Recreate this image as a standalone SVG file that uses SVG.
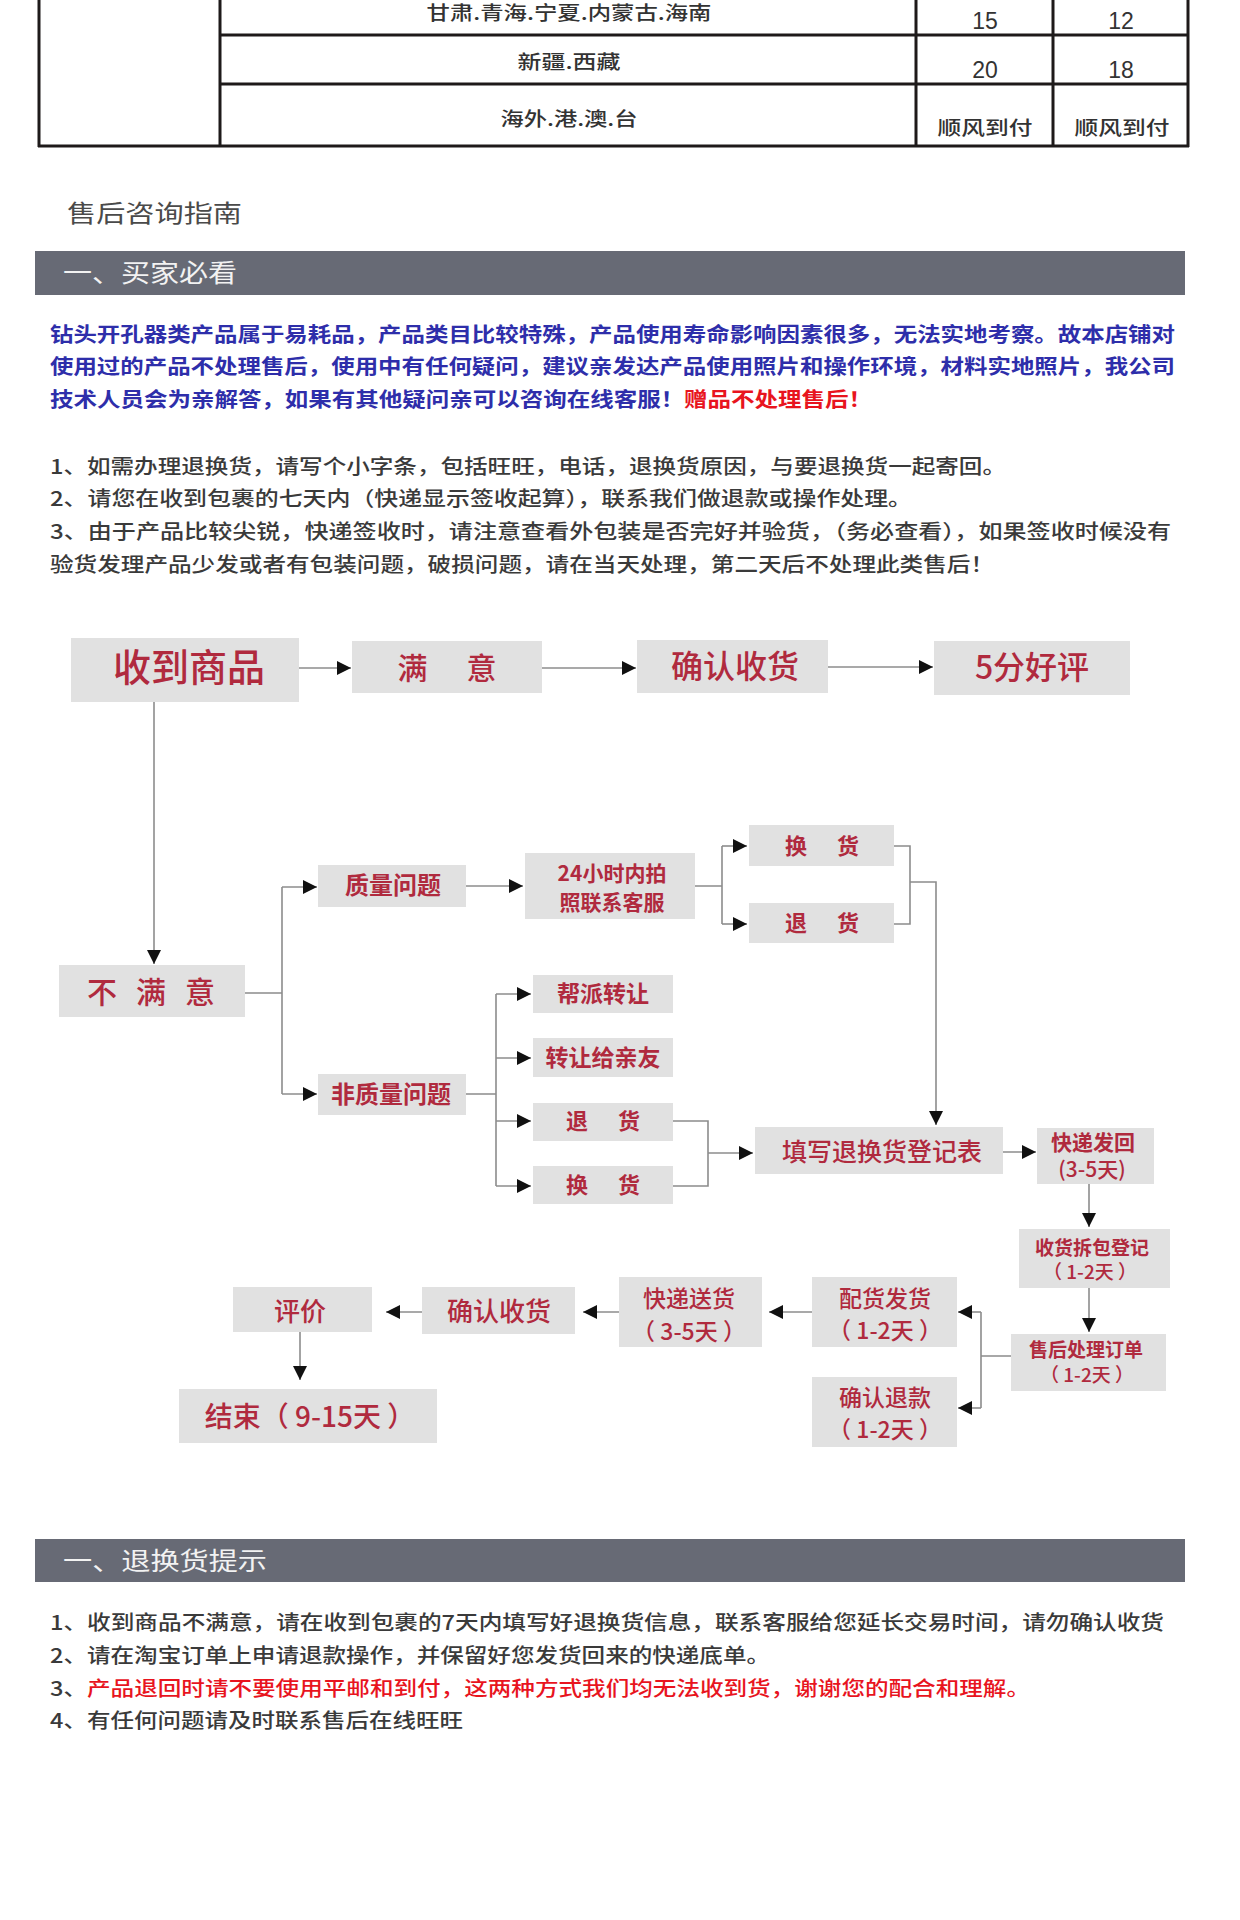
<svg xmlns="http://www.w3.org/2000/svg" width="1240" height="1920" viewBox="0 0 1240 1920">
<style>
  text { font-family: "Noto Sans CJK SC", "Noto Sans", "Liberation Sans", sans-serif; }
  .tbl { stroke: #1e1a1a; stroke-width: 3; fill: none; }
  .tt { fill: #333333; font-size: 19px; text-anchor: middle; font-weight: 500; }
  .tn { fill: #333333; font-size: 23px; text-anchor: middle; font-family: "Liberation Sans", "Noto Sans CJK SC", sans-serif; }
  .title { fill: #4a4a4a; font-size: 24px; }
  .banner { fill: #676a75; }
  .bt { fill: #f2f2f2; font-size: 25px; }
  .blue { fill: #2e2eaa; font-size: 20px; font-weight: bold; }
  .red { fill: #e8141e; }
  .gray { fill: #3a3a3a; font-size: 20px; font-weight: 500; }
  .box { fill: #e1e1e1; }
  .lb { fill: #b02a3e; text-anchor: middle; font-weight: bold; }
  .lm { fill: #b02a3e; text-anchor: middle; font-weight: 500; }
  .ln { stroke: #8c8c8c; stroke-width: 1.6; fill: none; }
  .ar { marker-end: url(#ah); }
</style>
<defs>
  <marker id="ah" markerWidth="14" markerHeight="14" refX="14" refY="7" orient="auto" markerUnits="userSpaceOnUse">
    <path d="M0,0 L14,7 L0,14 z" fill="#111"/>
  </marker>
</defs>
<rect x="0" y="0" width="1240" height="1920" fill="#ffffff"/>

<g id="table">
  <path class="tbl" d="M39,0 V147 M220,0 V147 M916,0 V147 M1053,0 V147 M1188,0 V147 M220,35 H1188 M220,84 H1188 M38,146 H1189"/>
  <text class="tt" x="569" y="20" textLength="285" lengthAdjust="spacingAndGlyphs">甘肃.青海.宁夏.内蒙古.海南</text>
  <text class="tn" x="985" y="29">15</text>
  <text class="tn" x="1121" y="29">12</text>
  <text class="tt" x="569" y="69" textLength="103" lengthAdjust="spacingAndGlyphs">新疆.西藏</text>
  <text class="tn" x="985" y="78">20</text>
  <text class="tn" x="1121" y="78">18</text>
  <text class="tt" x="569" y="126" textLength="137" lengthAdjust="spacingAndGlyphs">海外.港.澳.台</text>
  <text class="tt" x="985" y="135" font-size="21" textLength="95" lengthAdjust="spacingAndGlyphs">顺风到付</text>
  <text class="tt" x="1122" y="135" font-size="21" textLength="95" lengthAdjust="spacingAndGlyphs">顺风到付</text>
</g>

<text class="title" x="67" y="222" textLength="175" lengthAdjust="spacingAndGlyphs">售后咨询指南</text>

<g id="banner1">
  <rect class="banner" x="35" y="251" width="1150" height="44"/>
  <text class="bt" x="63" y="282" textLength="174" lengthAdjust="spacingAndGlyphs">一、买家必看</text>
</g>

<g id="notice">
  <text class="blue" x="50" y="342" textLength="1125" lengthAdjust="spacingAndGlyphs">钻头开孔器类产品属于易耗品，产品类目比较特殊，产品使用寿命影响因素很多，无法实地考察。故本店铺对</text>
  <text class="blue" x="50" y="374" textLength="1125" lengthAdjust="spacingAndGlyphs">使用过的产品不处理售后，使用中有任何疑问，建议亲发达产品使用照片和操作环境，材料实地照片，我公司</text>
  <text class="blue" x="50" y="407" textLength="822" lengthAdjust="spacingAndGlyphs">技术人员会为亲解答，如果有其他疑问亲可以咨询在线客服！<tspan class="red">赠品不处理售后！</tspan></text>
</g>

<g id="rules">
  <text class="gray" x="50" y="474" textLength="956" lengthAdjust="spacingAndGlyphs">1、如需办理退换货，请写个小字条，包括旺旺，电话，退换货原因，与要退换货一起寄回。</text>
  <text class="gray" x="50" y="506" textLength="862" lengthAdjust="spacingAndGlyphs">2、请您在收到包裹的七天内（快递显示签收起算），联系我们做退款或操作处理。</text>
  <text class="gray" x="50" y="539" textLength="1121" lengthAdjust="spacingAndGlyphs">3、由于产品比较尖锐，快递签收时，请注意查看外包装是否完好并验货，（务必查看），如果签收时候没有</text>
  <text class="gray" x="50" y="572" textLength="944" lengthAdjust="spacingAndGlyphs">验货发理产品少发或者有包装问题，破损问题，请在当天处理，第二天后不处理此类售后！</text>
</g>

<g id="connectors">
  <path class="ln ar" d="M299,668 H351"/>
  <path class="ln ar" d="M542,668 H636"/>
  <path class="ln ar" d="M828,667 H933"/>
  <path class="ln ar" d="M154,702 V964"/>
  <path class="ln" d="M245,993 H282 M282,887 V1094"/>
  <path class="ln ar" d="M282,887 H317"/>
  <path class="ln ar" d="M282,1094 H317"/>
  <path class="ln ar" d="M466,886 H523"/>
  <path class="ln" d="M695,886 H722 M722,846 V924"/>
  <path class="ln ar" d="M722,846 H747"/>
  <path class="ln ar" d="M722,924 H747"/>
  <path class="ln" d="M894,846 H910 V924 H894"/>
  <path class="ln ar" d="M910,882 H936 V1125"/>
  <path class="ln" d="M466,1094 H496 M496,994 V1186"/>
  <path class="ln ar" d="M496,994 H531"/>
  <path class="ln ar" d="M496,1058 H531"/>
  <path class="ln ar" d="M496,1121 H531"/>
  <path class="ln ar" d="M496,1186 H531"/>
  <path class="ln" d="M673,1121 H708 V1186 H673"/>
  <path class="ln ar" d="M708,1153 H753"/>
  <path class="ln ar" d="M1003,1152 H1036"/>
  <path class="ln ar" d="M1089,1184 V1227"/>
  <path class="ln ar" d="M1089,1288 V1332"/>
  <path class="ln" d="M1011,1356 H981 M981,1312 V1408"/>
  <path class="ln ar" d="M981,1312 H958"/>
  <path class="ln ar" d="M981,1408 H958"/>
  <path class="ln ar" d="M812,1312 H769"/>
  <path class="ln ar" d="M619,1312 H583"/>
  <path class="ln ar" d="M422,1312 H386"/>
  <path class="ln ar" d="M300,1332 V1380"/>
</g>

<g id="n_receive"><rect class="box" x="71" y="638" width="228" height="64"/><text class="lm" x="189" y="681" font-size="38">收到商品</text></g>
<g id="n_satisfied"><rect class="box" x="352" y="641" width="190" height="52"/><text class="lm" x="447" y="679" font-size="30" textLength="99" lengthAdjust="spacing">满 意</text></g>
<g id="n_confirm"><rect class="box" x="637" y="640" width="191" height="53"/><text class="lm" x="735" y="678" font-size="32">确认收货</text></g>
<g id="n_praise"><rect class="box" x="934" y="641" width="196" height="54"/><text class="lm" x="1032" y="679" font-size="32">5分好评</text></g>
<g id="n_unsat"><rect class="box" x="59" y="965" width="186" height="52"/><text class="lm" x="151" y="1003" font-size="30" textLength="128" lengthAdjust="spacing">不 满 意</text></g>
<g id="n_quality"><rect class="box" x="318" y="865" width="148" height="42"/><text class="lb" x="393" y="894" font-size="24">质量问题</text></g>
<g id="n_nonquality"><rect class="box" x="318" y="1074" width="148" height="41"/><text class="lb" x="391" y="1103" font-size="24">非质量问题</text></g>
<g id="n_photo"><rect class="box" x="525" y="853" width="170" height="66"/><text class="lb" font-size="21"><tspan x="612" y="881">24小时内拍</tspan><tspan x="612" y="910">照联系客服</tspan></text></g>
<g id="n_exchange1"><rect class="box" x="749" y="825" width="145" height="41"/><text class="lb" x="822" y="854" font-size="22" textLength="74" lengthAdjust="spacing">换 货</text></g>
<g id="n_return1"><rect class="box" x="749" y="903" width="145" height="40"/><text class="lb" x="822" y="931" font-size="22" textLength="74" lengthAdjust="spacing">退 货</text></g>
<g id="n_help"><rect class="box" x="533" y="975" width="140" height="38"/><text class="lb" x="603" y="1002" font-size="23">帮派转让</text></g>
<g id="n_friend"><rect class="box" x="533" y="1038" width="140" height="39"/><text class="lb" x="603" y="1066" font-size="23">转让给亲友</text></g>
<g id="n_return2"><rect class="box" x="533" y="1103" width="140" height="38"/><text class="lb" x="603" y="1129" font-size="22" textLength="74" lengthAdjust="spacing">退 货</text></g>
<g id="n_exchange2"><rect class="box" x="533" y="1166" width="140" height="38"/><text class="lb" x="603" y="1193" font-size="22" textLength="74" lengthAdjust="spacing">换 货</text></g>
<g id="n_form"><rect class="box" x="755" y="1127" width="248" height="47"/><text class="lm" x="882" y="1161" font-size="25">填写退换货登记表</text></g>
<g id="n_sendback"><rect class="box" x="1037" y="1128" width="117" height="56"/><text class="lb" font-size="21"><tspan x="1093" y="1150">快递发回</tspan><tspan x="1092" y="1177" font-weight="500">(3-5天)</tspan></text></g>
<g id="n_unpack"><rect class="box" x="1019" y="1229" width="151" height="59"/><text class="lb" font-size="19"><tspan x="1092" y="1255">收货拆包登记</tspan><tspan x="1090" y="1279" font-weight="500">（ 1-2天 ）</tspan></text></g>
<g id="n_order"><rect class="box" x="1011" y="1334" width="155" height="57"/><text class="lb" font-size="19"><tspan x="1086" y="1357">售后处理订单</tspan><tspan x="1087" y="1382" font-weight="500">（ 1-2天 ）</tspan></text></g>
<g id="n_ship"><rect class="box" x="812" y="1277" width="145" height="70"/><text class="lm" font-size="23"><tspan x="885" y="1307">配货发货</tspan><tspan x="885" y="1339">（ 1-2天 ）</tspan></text></g>
<g id="n_refund"><rect class="box" x="812" y="1377" width="145" height="70"/><text class="lm" font-size="23"><tspan x="885" y="1406">确认退款</tspan><tspan x="885" y="1438">（ 1-2天 ）</tspan></text></g>
<g id="n_deliver"><rect class="box" x="619" y="1277" width="143" height="70"/><text class="lm" font-size="23"><tspan x="689" y="1307">快递送货</tspan><tspan x="689" y="1340">（ 3-5天 ）</tspan></text></g>
<g id="n_confirm2"><rect class="box" x="422" y="1287" width="153" height="47"/><text class="lm" x="499" y="1321" font-size="26">确认收货</text></g>
<g id="n_review"><rect class="box" x="233" y="1287" width="139" height="45"/><text class="lm" x="300" y="1321" font-size="26">评价</text></g>
<g id="n_end"><rect class="box" x="179" y="1389" width="258" height="54"/><text class="lm" x="310" y="1427" font-size="28">结束（ 9-15天 ）</text></g>

<g id="banner2">
  <rect class="banner" x="35" y="1539" width="1150" height="43"/>
  <text class="bt" x="63" y="1570" textLength="204" lengthAdjust="spacingAndGlyphs">一、退换货提示</text>
</g>

<g id="tips">
  <text class="gray" x="50" y="1630" textLength="1114" lengthAdjust="spacingAndGlyphs">1、收到商品不满意，请在收到包裹的7天内填写好退换货信息，联系客服给您延长交易时间，请勿确认收货</text>
  <text class="gray" x="50" y="1663" textLength="720" lengthAdjust="spacingAndGlyphs">2、请在淘宝订单上申请退款操作，并保留好您发货回来的快递底单。</text>
  <text class="gray" x="50" y="1696" textLength="980" lengthAdjust="spacingAndGlyphs">3、<tspan class="red" fill="#e01b1b">产品退回时请不要使用平邮和到付，这两种方式我们均无法收到货，谢谢您的配合和理解。</tspan></text>
  <text class="gray" x="50" y="1728" textLength="413" lengthAdjust="spacingAndGlyphs">4、有任何问题请及时联系售后在线旺旺</text>
</g>
</svg>
